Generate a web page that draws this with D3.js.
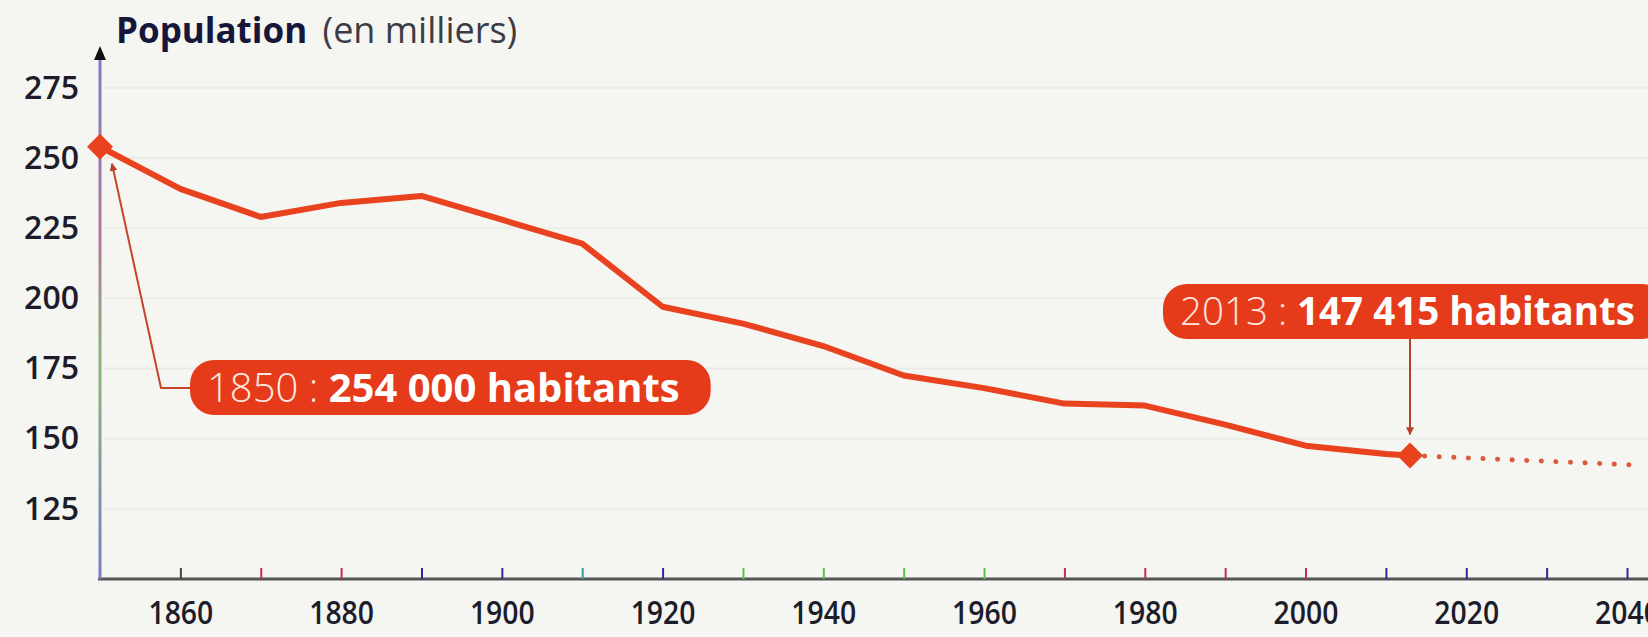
<!DOCTYPE html>
<html>
<head>
<meta charset="utf-8">
<title>Population (en milliers)</title>
<script src="https://cdnjs.cloudflare.com/ajax/libs/d3/7.8.5/d3.min.js"></script>
<style>
  body { margin: 0; background: #f5f5f2; }
  svg { display: block; font-family: "Open Sans", sans-serif; }
</style>
</head>
<body>
<script>
// donnees (milliers d'habitants)
var annees = [1850, 1860, 1870, 1880, 1890, 1900, 1910, 1920, 1930, 1940, 1950, 1960, 1970, 1980, 1990, 2000, 2010, 2013];
var population = [254, 239, 229, 234, 236.5, 228, 219.5, 197, 191, 183, 172.5, 168, 162.5, 161.8, 155, 147.5, 144.5, 144];
// projection en pointilles
var projAnnees = [2013, 2040.5];
var projPopulation = [144, 140.7];

var yTicks = [125, 150, 175, 200, 225, 250, 275];
var xTicks = [1860, 1870, 1880, 1890, 1900, 1910, 1920, 1930, 1940, 1950, 1960, 1970, 1980, 1990, 2000, 2010, 2020, 2030, 2040];
var xLabels = [1860, 1880, 1900, 1920, 1940, 1960, 1980, 2000, 2020, 2040];
// couleurs des petits traits de l'axe (le scan les rend bariolees)
var tickColors = ["#444", "#c0304a", "#c0304a", "#2a2a9a", "#2a2a9a", "#3a9aa0", "#2a2a9a", "#5ac04a", "#5ac04a", "#5ac04a", "#5ac04a",
  "#c0304a", "#c0304a", "#c0304a", "#c0304a", "#2a2a9a", "#2a2a9a", "#2a2a9a", "#2a2a9a"];

var annotAnnees = [1850, 2013];
var annotValeurs = [254, 144];
var annotDebut = ["1850 : ", "2013 : "];
var annotGras = ["254 000 habitants", "147 415 habitants"];

var width = 1648, height = 637;
var rouge = "#e8421e";

var x = d3.scaleLinear().domain([1850, 2040]).range([100, 1627]);
var y = d3.scaleLinear().domain([100, 250]).range([579, 158]);

var svg = d3.select("body").append("svg")
  .attr("width", width)
  .attr("height", height);

svg.append("rect").attr("width", width).attr("height", height).attr("fill", "#f5f5f2");

var defs = svg.append("defs");
defs.append("marker")
  .attr("id", "fleche")
  .attr("viewBox", "0 0 10 10")
  .attr("refX", 9).attr("refY", 5)
  .attr("markerWidth", 4).attr("markerHeight", 4)
  .attr("orient", "auto-start-reverse")
  .append("path").attr("d", "M0,0L10,5L0,10z").attr("fill", "#b8402a");

var grad = defs.append("linearGradient")
  .attr("id", "axeY").attr("x1", 0).attr("y1", 0).attr("x2", 0).attr("y2", 1);
grad.append("stop").attr("offset", "0%").attr("stop-color", "#7c7cc8");
grad.append("stop").attr("offset", "35%").attr("stop-color", "#b07a9a");
grad.append("stop").attr("offset", "60%").attr("stop-color", "#8ab87a");
grad.append("stop").attr("offset", "100%").attr("stop-color", "#7c7cc8");

// lignes de fond tres pales
svg.append("g").selectAll("line")
  .data(yTicks)
  .enter().append("line")
  .attr("x1", x(1850) + 4).attr("x2", width)
  .attr("y1", function(d) { return y(d); })
  .attr("y2", function(d) { return y(d); })
  .attr("stroke", "#ebebe8")
  .attr("stroke-width", 2);

// axe X
var xAxis = d3.axisBottom(x)
  .tickValues(xTicks)
  .tickSize(-11)
  .tickPadding(22)
  .tickFormat(function(d) { return xLabels.indexOf(d) >= 0 ? d : ""; });

var gx = svg.append("g")
  .attr("transform", "translate(0," + y(100) + ")")
  .call(xAxis)
  .attr("font-family", "'Open Sans', sans-serif");
gx.select(".domain").attr("stroke", "#555").attr("stroke-width", 3)
  .attr("d", "M" + (x(1850) - 2) + ",0H" + width);
gx.selectAll(".tick line")
  .attr("stroke", function(d, i) { return tickColors[i]; })
  .attr("stroke-width", 2);
gx.selectAll(".tick text")
  .attr("fill", "#1c1c2a")
  .attr("font-size", 33)
  .attr("font-weight", 600)
  .attr("dy", "0.71em")
  .attr("transform", "scale(0.86,1)")
  .attr("x", 0);

// axe Y
var yAxis = d3.axisLeft(y)
  .tickValues(yTicks)
  .tickSize(0)
  .tickPadding(21);
var gy = svg.append("g")
  .attr("transform", "translate(" + x(1850) + ",0)")
  .call(yAxis)
  .attr("font-family", "'Open Sans', sans-serif");
gy.select(".domain").remove();
gy.selectAll(".tick text")
  .attr("fill", "#1c1c2a")
  .attr("font-size", 32)
  .attr("font-weight", 600);

svg.append("rect")
  .attr("x", x(1850) - 1.5).attr("y", 52)
  .attr("width", 3).attr("height", y(100) - 52)
  .attr("fill", "url(#axeY)");
svg.append("path")
  .attr("d", "M" + (x(1850) - 6) + ",60L" + x(1850) + ",46L" + (x(1850) + 6) + ",60z")
  .attr("fill", "#111");

// titre
var titre = svg.append("text")
  .attr("x", 116).attr("y", 43);
titre.append("tspan").attr("font-size", 35).attr("font-weight", 700).attr("fill", "#16163a").text("Population");
titre.append("tspan").attr("font-size", 36).attr("font-weight", 400).attr("fill", "#3c3c44").attr("dx", 6).text(" (en milliers)");

// courbe
var ligne = d3.line()
  .x(function(d, i) { return x(annees[i]); })
  .y(function(d) { return y(d); });

svg.append("path")
  .datum(population)
  .attr("fill", "none")
  .attr("stroke", rouge)
  .attr("stroke-width", 6)
  .attr("stroke-linejoin", "round")
  .attr("stroke-linecap", "round")
  .attr("d", ligne);

var ligneProj = d3.line()
  .x(function(d, i) { return x(projAnnees[i]); })
  .y(function(d) { return y(d); });

svg.append("path")
  .datum(projPopulation)
  .attr("fill", "none")
  .attr("stroke", "#dc5a3c")
  .attr("stroke-width", 5)
  .attr("stroke-linecap", "round")
  .attr("stroke-dasharray", "0.1 14.5")
  .attr("d", ligneProj);

// losanges
svg.append("g").selectAll("path")
  .data(annotAnnees)
  .enter().append("path")
  .attr("d", "M0,-13L13,0L0,13L-13,0z")
  .attr("transform", function(d, i) { return "translate(" + x(d) + "," + y(annotValeurs[i]) + ")"; })
  .attr("fill", rouge);

// etiquettes
var bulles = [
  { x: x(annotAnnees[0]) + 90, y: 360, h: 55, taille: 40 },
  { x: x(annotAnnees[1]) - 247, y: 284, h: 55, taille: 38.5 }
];

bulles.forEach(function(b, i) {
  var g = svg.append("g");
  var rect = g.append("rect")
    .attr("x", b.x).attr("y", b.y)
    .attr("height", b.h)
    .attr("rx", 24).attr("ry", 24)
    .attr("fill", "#e63b1b");
  var t = g.append("text")
    .attr("x", b.x + 17).attr("y", b.y + b.h / 2)
    .attr("dy", "0.36em")
    .attr("font-size", b.taille)
    .attr("fill", "#fff");
  t.append("tspan").attr("font-weight", 300).attr("fill", "#fde8e0").text(annotDebut[i]);
  t.append("tspan").attr("font-weight", 700).text(annotGras[i]);
  var w = t.node().getComputedTextLength();
  rect.attr("width", w + 48);
});

// traits de rappel
svg.append("path")
  .attr("d", "M" + (x(1850) + 90) + ",388H" + (x(1850) + 61) + "L" + (x(1850) + 12) + "," + (y(annotValeurs[0]) + 17))
  .attr("fill", "none")
  .attr("stroke", "#c4452c")
  .attr("stroke-width", 2)
  .attr("marker-end", "url(#fleche)");

svg.append("line")
  .attr("x1", x(2013)).attr("x2", x(2013))
  .attr("y1", 339).attr("y2", y(annotValeurs[1]) - 21)
  .attr("stroke", "#b8402a")
  .attr("stroke-width", 2)
  .attr("marker-end", "url(#fleche)");
</script>
</body>
</html>
